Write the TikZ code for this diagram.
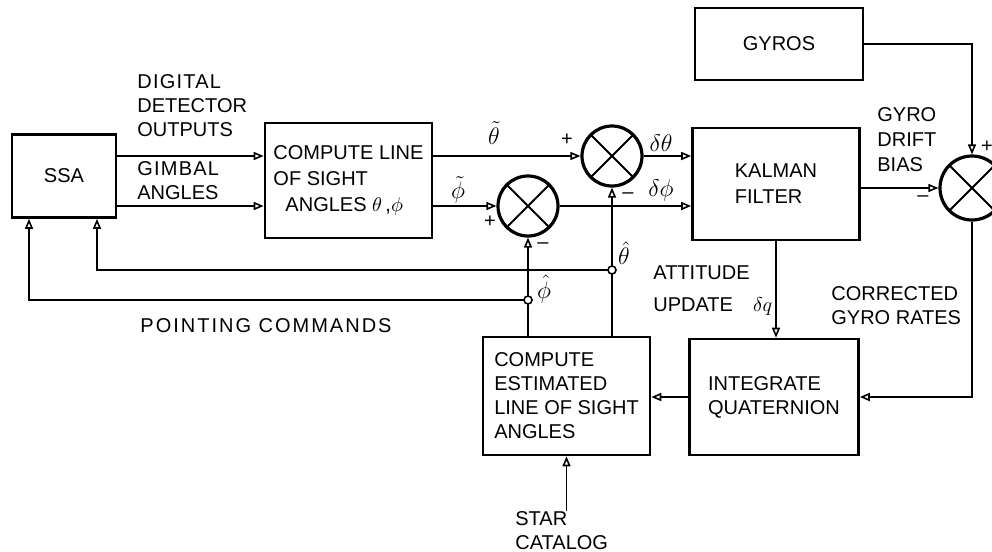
\documentclass[tikz,border=0pt]{standalone}
\usepackage{fontspec}
\setmainfont{Liberation Sans}
\usetikzlibrary{arrows.meta}

\begin{document}
\begin{tikzpicture}[
    x=0.5pt, y=-0.5pt,
    font=\fontsize{10pt}{12pt}\selectfont,
    box/.style={rectangle, draw, line width=1.3pt, align=left, inner sep=0pt},
    sumj/.style={circle, draw, line width=1.6pt, inner sep=0pt, minimum size=30pt,
        path picture={\draw[line width=1pt] (path picture bounding box.north west) -- (path picture bounding box.south east)
            (path picture bounding box.north east) -- (path picture bounding box.south west);}},
    dot/.style={circle, draw, thick, fill=white, inner sep=0pt, minimum size=4pt},
    lbl/.style={inner sep=0pt, align=left},
    sym/.style={inner sep=0pt, font=\fontsize{12pt}{14pt}\selectfont},
    sgn/.style={inner sep=0pt, font=\fontsize{10pt}{10pt}\selectfont},
    arrow/.style={-{Triangle[open, length=5pt, width=4pt]}, thick}
]
\useasboundingbox (0,0) rectangle (992,552);
\clip (0,0) rectangle (992,552);

% blocks
\node[box, minimum width=52pt, minimum height=41.5pt, align=center] (ssa) at (64,176) {SSA};
\node[box, minimum width=83.5pt, minimum height=57.5pt] (los) at (348.5,180.5) {COMPUTE LINE\\[1pt]OF SIGHT\\[1pt]\hspace{6pt}ANGLES $\theta$\,,$\phi$};
\node[sumj] (sumL) at (528,206) {};
\node[sumj] (sumU) at (612,156) {};
\node[box, minimum width=83.5pt, minimum height=56pt] (kalman) at (776,184) {KALMAN\\[1pt]FILTER};
\node[box, minimum width=84pt, minimum height=36pt, align=center] (gyros) at (779,44) {GYROS};
\node[sumj, minimum size=32pt] (sumR) at (972,188) {};
\node[box, minimum width=83.5pt, minimum height=59pt] (est) at (566.5,396) {COMPUTE\\ESTIMATED\\LINE OF SIGHT\\ANGLES};
\node[box, minimum width=84.5pt, minimum height=58pt] (integ) at (774,397) {INTEGRATE\\QUATERNION};
\node[lbl, anchor=north west] (catalog) at (515,511) {STAR\\CATALOG};

% labels
\node[lbl, anchor=west] (detect) at (137,106) {\addfontfeature{LetterSpace=6}DIGITAL\\DETECTOR\\OUTPUTS};
\node[lbl, anchor=west] (gimbal) at (137,181) {\addfontfeature{LetterSpace=6}GIMBAL\\ANGLES};
\node[sym] (thtil) at (494,133) {$\tilde{\theta}$};
\node[sym] (phtil) at (458,190) {$\tilde{\phi}$};
\node[sym] (dth) at (661,143) {$\delta\theta$};
\node[sym] (dph) at (661,190) {$\delta\phi$};
\node[sym] (thhat) at (624,253) {$\hat{\theta}$};
\node[sym] (phhat) at (544,289) {$\hat{\phi}$};
\node[lbl, anchor=north west] (attitude) at (653,265) {ATTITUDE\\[4pt]UPDATE\hspace{10pt}$\delta q$};
\node[lbl, anchor=west] (corrected) at (831,306) {CORRECTED\\GYRO RATES};
\node[lbl, anchor=west] (drift) at (877,140) {GYRO\\[0.5pt]DRIFT\\[0.5pt]BIAS};
\node (pointing) at (266,326) {\addfontfeature{LetterSpace=10}POINTING COMMANDS};
\node[sgn] (pU) at (567,140) {+};
\node[sgn] (mU) at (628,196) {--};
\node[sgn] (pL) at (490,222) {+};
\node[sgn] (mL) at (543,246) {--};
\node[sgn] (pR) at (987,147) {+};
\node[sgn] (mR) at (923,199) {--};

\coordinate (thj) at (sumU |- 0,270);
\coordinate (phj) at (sumL |- 0,300);

% signal paths
\draw[arrow] (sumU -| ssa.east) -- (sumU -| los.west);
\draw[arrow] (sumL -| ssa.east) -- (sumL -| los.west);
\draw[arrow] (sumU -| los.east) -- (sumU.west);
\draw[arrow] (sumL -| los.east) -- (sumL.west);
\draw[arrow] (sumU.east) -- (sumU -| kalman.west);
\draw[arrow] (sumL.east) -- (sumL -| kalman.west);
\draw[arrow] (est.north -| sumU) -- (sumU.south);
\draw[arrow] (est.north -| sumL) -- (sumL.south);
\draw[arrow] (thj) -| ([xshift=16.5pt]ssa.south);
\draw[arrow] (phj) -| ([xshift=-17.5pt]ssa.south);
\draw[arrow] (gyros.east) -| (sumR.north);
\draw[arrow] (sumR -| kalman.east) -- (sumR.west);
\draw[arrow] (sumR.south) |- (integ.east);
\draw[arrow] (integ.west) -- (integ.west -| est.east);
\draw[arrow] (kalman.south) -- (kalman.south |- integ.north);
\draw[arrow] (catalog.north -| est.south) -- (est.south);

\node[dot] (thdot) at (thj) {};
\node[dot] (phdot) at (phj) {};
\end{tikzpicture}
\end{document}
